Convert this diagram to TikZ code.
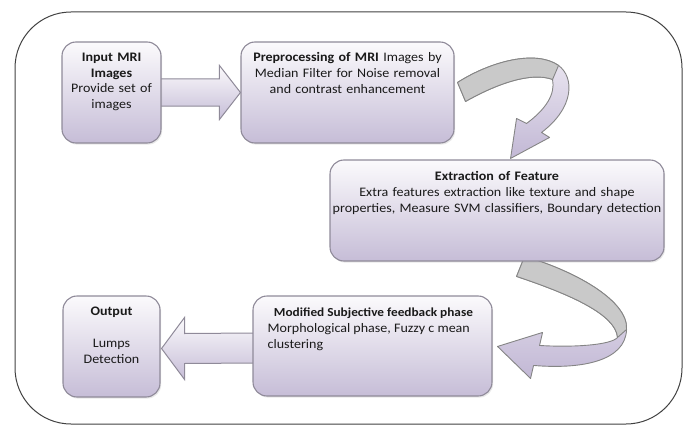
\documentclass[tikz,border=0pt]{standalone}
\usepackage{fontspec}
\setmainfont{Carlito}[FakeStretch=1.08]
\usetikzlibrary{calc,shadows,backgrounds}
\definecolor{boxbot}{HTML}{C6BDD7}
\definecolor{boxtop}{HTML}{FBFAFC}
\definecolor{boxline}{HTML}{8F8A99}
\definecolor{grayband}{HTML}{C9C9C9}
\definecolor{grayline}{HTML}{858585}
\definecolor{ribtop}{HTML}{EEEAF3}
\definecolor{ribbot}{HTML}{C2B8D5}
\definecolor{txtcol}{HTML}{1A1A1A}
\begin{document}
\begin{tikzpicture}[x=1pt,y=-1pt,
  stage/.style={draw=boxline, line width=1.1pt, rounded corners=14pt, top color=boxtop, bottom color=boxbot,
    inner sep=0pt, drop shadow={opacity=0.18, shadow xshift=1.2pt, shadow yshift=-1.6pt}},
  boxtext/.style={anchor=north, inner sep=0pt, align=center, text=txtcol, font=\fontsize{13}{15.8}\selectfont},
  blockarrow/.style={draw=boxline, line width=1pt, top color=boxtop, bottom color=boxbot, line join=miter},
  ribbon/.style={draw=grayline, line width=0.9pt, top color=ribtop, bottom color=ribbot, line join=round},
  ribbonback/.style={draw=grayline, line width=0.9pt, fill=grayband, line join=round},
]
\useasboundingbox (0,0) rectangle (688,428);
\node[draw=black!75, line width=1pt, rounded corners=56pt, minimum width=667pt, minimum height=412pt, inner sep=0pt] (frame) at (348.5,218) {};

% boxes
\node[stage, minimum width=99pt, minimum height=101pt] (b1) at (111.5,92.5) {};
\node[stage, minimum width=213pt, minimum height=101pt] (b2) at (347.5,92.5) {};
\node[stage, minimum width=334pt, minimum height=101pt] (b3) at (497,210.5) {};
\node[stage, minimum width=239pt, minimum height=100pt] (b4) at (372.5,346) {};
\node[stage, minimum width=97pt, minimum height=101pt] (b5) at (111.5,346.5) {};

% texts
\node[boxtext, text width=95pt] (t1) at ($(b1.north)+(0,8.6)$)
  {\strut\textbf{Input MRI}\\ \textbf{Images}\\ Provide set of\\ images};
\node[boxtext, text width=210pt] (t2) at ($(b2.north)+(0,9)$)
  {\strut\textbf{Preprocessing of MRI} Images by\\ Median Filter for Noise removal\\ and contrast enhancement};
\node[boxtext, text width=334pt] (t3) at ($(b3.north)+(0,10)$)
  {\strut\textbf{Extraction of Feature}\\ Extra features extraction like texture and shape\\ properties, Measure SVM classifiers, Boundary detection};
\node[boxtext] (t4) at ($(b4.north)+(1,10)$)
  {\fontsize{12.3}{15.8}\selectfont\strut\textbf{Modified Subjective feedback phase}};
\node[boxtext, anchor=north west, align=left] (t4b) at ($(b4.north west)+(15,25.8)$)
  {\strut Morphological phase, Fuzzy c mean\\ clustering};
\node[boxtext, text width=95pt] (t5) at ($(b5.north)+(0,9)$)
  {\strut\textbf{Output}\\ \mbox{}\\ Lumps\\ Detection};

\begin{scope}[on background layer]
  % straight block arrows
  \draw[blockarrow] ($(b1.east)+(-4,-13.5)$) -- ($(b2.west)+(-21,-13.5)$) -- ($(b2.west)+(-21,-27)$)
    -- (b2.west) -- ($(b2.west)+(-21,27)$) -- ($(b2.west)+(-21,13.5)$) -- ($(b1.east)+(-4,13.5)$) -- cycle;
  \coordinate (a2tip) at ($(b5.east)+(1,2)$);
  \draw[blockarrow] ($(b4.west)+(4,17)$) -- ($(a2tip)+(23,15)$) -- ($(a2tip)+(23,31)$)
    -- (a2tip) -- ($(a2tip)+(23,-31)$) -- ($(a2tip)+(23,-15)$) -- ($(b4.west)+(4,-13)$) -- cycle;
\end{scope}

% curved arrow from b2 to b3
\begin{scope}[on background layer, shift={(b2.north east)}]
  \path[ribbon] (3,41) .. controls (36,20) and (81,8) .. (104,24)
    .. controls (120,36) and (120,66) .. (87,91)
    -- (95,96) -- (56,117) -- (62,77) -- (72,82)
    .. controls (91,68) and (101,53) .. (98,38)
    .. controls (76,30) and (41,43) .. (11,60) -- cycle;
  \path[ribbonback] (3,41) .. controls (36,20) and (81,8) .. (104,24) -- (98,38)
    .. controls (76,30) and (41,43) .. (11,60) -- cycle;
\end{scope}

% curved arrow from b3 to b4
\begin{scope}[on background layer, shift={(b4.north east)}]
  \path[ribbon] (32,-39) .. controls (78,-26) and (136,4) .. (134,34)
    .. controls (133,66) and (88,74) .. (41,70)
    -- (38,83) -- (5,51) -- (50,37) -- (47,50)
    .. controls (78,52) and (118,50) .. (125,42)
    .. controls (123,19) and (78,-1) .. (24,-19) -- cycle;
  \path[ribbonback] (32,-39) .. controls (78,-26) and (136,4) .. (134,34) -- (125,42)
    .. controls (123,19) and (78,-1) .. (24,-19) -- cycle;
\end{scope}
\end{tikzpicture}
\end{document}
